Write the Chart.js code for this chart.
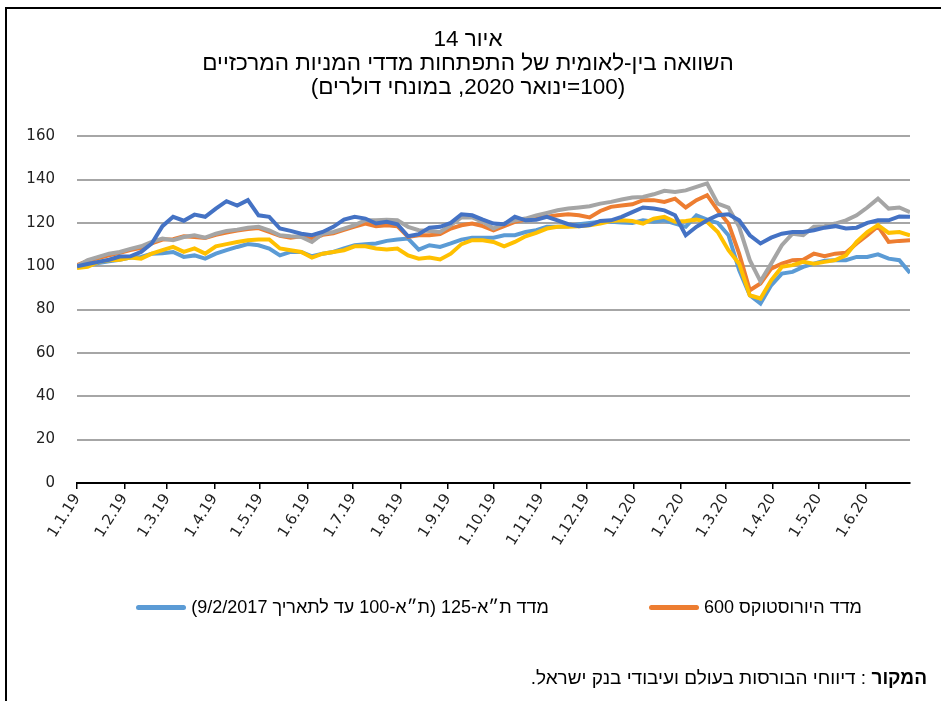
<!DOCTYPE html>
<html lang="he">
<head>
<meta charset="utf-8">
<script src="https://cdn.jsdelivr.net/npm/chart.js@4.4.1/dist/chart.umd.min.js"></script>
<style>
  html, body { margin: 0; padding: 0; background: #fff; }
  body { width: 941px; height: 701px; position: relative; overflow: hidden; font-family: "Liberation Sans", "DejaVu Sans", sans-serif; }
  #frame { position: absolute; left: 5px; top: 7px; right: -4px; bottom: -4px; border-left: 2px solid #000; border-top: 2px solid #000; }
  #wrap { position: absolute; left: 0; top: 0; width: 941px; height: 701px; }
  #legend { position: absolute; top: 597px; right: 79px; display: flex; direction: rtl; gap: 100px; font-size: 18px; color: #000; }
  #legend .item { display: flex; align-items: center; gap: 5px; white-space: nowrap; }
  #legend .swatch { width: 50px; height: 5px; border-radius: 3px; }
  #source { position: absolute; right: 14px; top: 667px; direction: rtl; font-size: 19px; color: #000; white-space: nowrap; }
</style>
</head>
<body>
<div id="frame"></div>
<div id="wrap"><canvas id="chart" dir="rtl"></canvas></div>
<div id="legend"></div>
<div id="source"><b>המקור</b> : דיווחי הבורסות בעולם ועיבודי בנק ישראל.</div>

<script>
// כותרת
const titleLines = ['איור 14', 'השוואה בין-לאומית של התפתחות מדדי המניות המרכזיים', '(100=ינואר 2020, במונחי דולרים)'];

// תאריכים (שבועי)
const dates = [
    '2019-01-01', '2019-01-08', '2019-01-15', '2019-01-22', '2019-01-29',
    '2019-02-05', '2019-02-12', '2019-02-19', '2019-02-26',
    '2019-03-05', '2019-03-12', '2019-03-19', '2019-03-26',
    '2019-04-02', '2019-04-09', '2019-04-16', '2019-04-23', '2019-04-30',
    '2019-05-07', '2019-05-14', '2019-05-21', '2019-05-28',
    '2019-06-04', '2019-06-11', '2019-06-18', '2019-06-25',
    '2019-07-02', '2019-07-09', '2019-07-16', '2019-07-23', '2019-07-30',
    '2019-08-06', '2019-08-13', '2019-08-20', '2019-08-27',
    '2019-09-03', '2019-09-10', '2019-09-17', '2019-09-24',
    '2019-10-01', '2019-10-08', '2019-10-15', '2019-10-22', '2019-10-29',
    '2019-11-05', '2019-11-12', '2019-11-19', '2019-11-26',
    '2019-12-03', '2019-12-10', '2019-12-17', '2019-12-24', '2019-12-31',
    '2020-01-07', '2020-01-14', '2020-01-21', '2020-01-28',
    '2020-02-04', '2020-02-11', '2020-02-18', '2020-02-25',
    '2020-03-03', '2020-03-10', '2020-03-17', '2020-03-24', '2020-03-31',
    '2020-04-07', '2020-04-14', '2020-04-21', '2020-04-28',
    '2020-05-05', '2020-05-12', '2020-05-19', '2020-05-26',
    '2020-06-02', '2020-06-09', '2020-06-16', '2020-06-23', '2020-06-30'
];

// תוויות ציר X
const monthLabels = ['1.1.19', '1.2.19', '1.3.19', '1.4.19', '1.5.19', '1.6.19', '1.7.19', '1.8.19', '1.9.19',
    '1.10.19', '1.11.19', '1.12.19', '1.1.20', '1.2.20', '1.3.20', '1.4.20', '1.5.20', '1.6.20'];

// מדד ת"א-125
const ta125 = [
    100, 100.3, 101.5, 102.3, 103, 104, 104.3, 105.8, 106, 106.6, 104.3, 105, 103.5, 105.8, 107.4, 108.9, 110.2, 109.7,
    108.2, 105, 106.6, 106.6, 104.6, 105.8, 106.6, 108.2, 109.7,
    110.2, 110.5, 111.7, 112.3, 112.8, 107.7, 109.7, 108.9, 110.5, 112.3, 113.2, 113.2, 113.2, 114.3, 114.3, 115.8,
    116.6, 118.2, 118.2, 118.5, 119.4, 120, 120.5, 120.5, 120.2, 120,
    121.2, 120.5, 121.2, 119.7, 118.2, 123.5, 121.5, 120, 114.3, 98.2, 86.6, 82.8, 91.2, 96.6, 97.4, 99.7, 101.2,
    102.5, 102.8, 102.8, 104.3, 104.3, 105.5, 103.5, 102.8, 96.9
];

// מדד היורוסטוקס 600
const stoxx600 = [
    100.5, 102.5, 103.8, 105, 106.2, 107.5, 108.5, 110.5, 112.3, 112.5, 113.8, 113.5, 113, 114.5, 115.6, 116.5, 117.2, 117.6,
    115.8, 114, 113.2, 113.8, 112.5, 114.5, 115.2, 116.8, 118.3,
    119.7, 118.5, 118.9, 118.5, 113.5, 114.3, 114.3, 114.8, 117.4, 118.9, 119.7, 118.5, 116.6, 118.5, 120.5, 121.5,
    122.5, 122.8, 123.5, 124, 123.5, 122.5, 125.5, 127.4, 128, 128.6,
    130.5, 130.5, 129.7, 131.2, 127.1, 130.5, 132.8, 125.8, 119.7, 105.8, 88.9, 92, 98.9, 101.2, 102.8, 103, 105.8,
    104.6, 105.8, 106.2, 110.5, 114.3, 118.5, 111.2, 111.7, 112
];

// סדרות נוספות (ללא מקרא)
const seriesGrey = [
    100, 102.8, 104.3, 105.8, 106.6, 108, 109.2, 111.2, 112.8, 112, 113.5, 114.3, 113.2, 115, 116.3, 116.9, 117.8, 118.2,
    116.6, 114.3, 113.8, 113.5, 111.2, 115, 115.8, 117.4, 119,
    121.2, 121.2, 121.5, 121.2, 118.2, 116.6, 116.3, 115.8, 119, 122.5, 122.5, 120.5, 117.4, 119.7, 121.2, 122,
    123.5, 124.6, 125.8, 126.6, 127.1, 127.7, 128.9, 129.7, 130.8, 131.7,
    132, 133.2, 134.8, 134.3, 135, 136.6, 138.2, 128.9, 127.1, 118.2, 102.8, 93, 101.2, 109.7, 115, 114.3, 118.2,
    118.5, 119.7, 121.2, 123.5, 127.1, 131.2, 126.6, 127.1, 125
];

const seriesYellow = [
    99.2, 99.7, 102, 102.8, 103, 104, 103.5, 105.8, 107.4, 108.9, 106.6, 108.2, 105.8, 109.2, 110.2, 111.2, 112, 112.3,
    112.3, 108.2, 107.4, 106.6, 104, 105.8, 106.6, 107.4, 109.2,
    109.2, 108.2, 107.7, 108.2, 105, 103.5, 104, 103.1, 105.8, 110.2, 112, 112, 111.2, 109.2, 111.2, 113.8,
    115.4, 117.4, 118.2, 118.2, 118.5, 118.9, 119.7, 120.9, 121.2, 120.9,
    119.7, 122, 122.8, 120.5, 120.9, 121.5, 120.5, 115.8, 107.4, 101.2, 86.6, 85.1, 93.5, 99.7, 100.5, 102, 101.2,
    102, 102.8, 105, 111.2, 115.8, 119, 115.4, 115.8, 114.3
];

const seriesDarkBlue = [
    100, 101, 102, 103, 104.5, 104.6, 106.6, 110.5, 118.5, 122.8, 121, 123.8, 122.8, 126.6, 130, 128, 130.5, 123.5,
    122.8, 117.4, 116.3, 115, 114.3, 115.8, 118.2, 121.5, 122.8,
    122, 119.7, 120.5, 119.4, 113.8, 114.8, 117.8, 118.2, 120, 124, 123.5, 121.5, 119.7, 119.4, 122.8, 121.2,
    121.5, 122.8, 121.2, 119.4, 118.5, 119, 120.9, 121.2, 122.8, 125,
    127.1, 126.6, 125.8, 123.5, 114.3, 118.2, 121.2, 123.5, 124, 121.2, 114.3, 110.5, 113.2, 115, 115.8, 115.8, 116.6,
    117.8, 118.5, 117.4, 117.8, 120, 121.2, 121.2, 123, 122.8
];

const DAY = 86400000;
const startTime = Date.parse(dates[0]);
const dayOffset = (iso) => Math.round((Date.parse(iso) - startTime) / DAY);
const labelOffset = (lbl) => {
    const [d, m, y] = lbl.split('.').map(Number);
    return Math.round((Date.UTC(2000 + y, m - 1, d) - startTime) / DAY);
};
const monthTicks = monthLabels.map(labelOffset);

const toPoints = (values) => values.map((v, i) => ({ x: dayOffset(dates[i]), y: v }));

const lineStyle = (color, order) => ({
    borderColor: color,
    backgroundColor: color,
    borderWidth: 4,
    pointRadius: 0,
    tension: 0,
    order: order
});

const datasets = [
    { label: 'מדד ת״א-125 (ת״א-100 עד לתאריך 9/2/2017)', data: toPoints(ta125), ...lineStyle('#5B9BD5', 5) },
    { label: 'מדד היורוסטוקס 600', data: toPoints(stoxx600), ...lineStyle('#ED7D31', 4) },
    { label: '', data: toPoints(seriesGrey), ...lineStyle('#A5A5A5', 3) },
    { label: '', data: toPoints(seriesYellow), ...lineStyle('#FFC000', 2) },
    { label: '', data: toPoints(seriesDarkBlue), ...lineStyle('#4472C4', 1) }
];

const tickFont = { family: 'DejaVu Sans', size: 15 };

const chart = new Chart(document.getElementById('chart'), {
    type: 'line',
    data: { datasets: datasets },
    options: {
        responsive: true,
        maintainAspectRatio: false,
        animation: false,
        layout: { padding: { left: 26, right: 31, top: 0, bottom: 150 } },
        plugins: {
            legend: { display: false },
            tooltip: { enabled: false },
            title: {
                display: true,
                text: titleLines,
                color: '#000',
                font: { family: 'Liberation Sans', size: 22.5, weight: 'normal', lineHeight: 1.07 },
                padding: { top: 28, bottom: 36 }
            }
        },
        scales: {
            x: {
                type: 'linear',
                min: 0,
                max: dayOffset(dates[dates.length - 1]),
                afterBuildTicks: (scale) => { scale.ticks = monthTicks.map(v => ({ value: v })); },
                afterFit: (scale) => { scale.paddingLeft = 0; scale.paddingRight = 0; },
                ticks: {
                    autoSkip: false,
                    maxRotation: 58,
                    minRotation: 58,
                    padding: 2,
                    color: '#222',
                    font: tickFont,
                    callback: (value) => monthLabels[monthTicks.indexOf(value)]
                },
                grid: { drawOnChartArea: false, drawTicks: true, tickLength: 6, color: '#000', lineWidth: 1.5 },
                border: { display: true, color: '#000', width: 2 }
            },
            y: {
                min: 0,
                max: 160,
                // רוחב קבוע לציר, כדי שאזור הגרף יתחיל במקום הנכון
                afterFit: (scale) => { scale.width = 51; },
                ticks: { stepSize: 20, padding: 22, color: '#222', font: tickFont },
                grid: {
                    drawTicks: false,
                    lineWidth: 2,
                    color: (ctx) => (ctx.tick && ctx.tick.value === 0 ? 'rgba(0,0,0,0)' : '#A6A6A6')
                },
                border: { display: false }
            }
        }
    }
});

// מקרא (רק שתי סדרות מופיעות)
const legendEl = document.getElementById('legend');
[...chart.data.datasets].reverse().filter(ds => ds.label).forEach(ds => {
    const item = document.createElement('div');
    item.className = 'item';
    const text = document.createElement('span');
    text.textContent = ds.label;
    const sw = document.createElement('span');
    sw.className = 'swatch';
    sw.style.background = ds.borderColor;
    item.appendChild(text);
    item.appendChild(sw);
    legendEl.appendChild(item);
});
</script>
</body>
</html>
